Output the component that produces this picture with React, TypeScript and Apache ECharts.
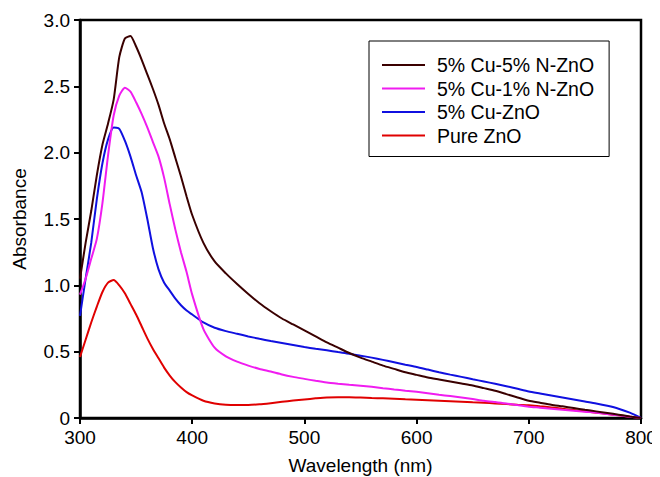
import React, { useEffect, useRef } from "react";
import * as echarts from "echarts";

const wavelengths = [300, 305, 310, 315, 320, 325, 330, 335, 340, 345, 350, 355, 360, 365, 370, 375, 380, 385, 390, 395,
  400, 410, 420, 430, 440, 450, 460, 470, 480, 490, 500, 510, 520, 530, 540, 550, 560, 570, 580, 590,
  600, 610, 620, 630, 640, 650, 660, 670, 680, 690, 700, 710, 720, 730, 740, 750, 760, 770, 780, 790, 800];

const cu5n5 = [1.05, 1.32, 1.56, 1.83, 2.06, 2.22, 2.4, 2.72, 2.86, 2.88, 2.8, 2.7, 2.59, 2.48, 2.36, 2.22, 2.1, 1.96, 1.82, 1.67,
  1.53, 1.32, 1.18, 1.09, 1.01, 0.935, 0.865, 0.805, 0.75, 0.705, 0.66, 0.615, 0.57, 0.53, 0.49, 0.455, 0.425, 0.395, 0.37, 0.345,
  0.325, 0.305, 0.29, 0.275, 0.26, 0.245, 0.225, 0.205, 0.18, 0.155, 0.13, 0.115, 0.1, 0.088, 0.075, 0.062, 0.05, 0.038, 0.025, 0.012, 0];
const cu5n1 = [0.93, 1.05, 1.2, 1.35, 1.62, 1.98, 2.28, 2.43, 2.49, 2.46, 2.38, 2.29, 2.19, 2.08, 1.97, 1.81, 1.61, 1.42, 1.25, 1.1,
  0.93, 0.67, 0.53, 0.465, 0.425, 0.395, 0.37, 0.35, 0.328, 0.31, 0.295, 0.28, 0.267, 0.258, 0.25, 0.243, 0.235, 0.225, 0.215, 0.206,
  0.197, 0.186, 0.175, 0.165, 0.155, 0.143, 0.13, 0.12, 0.11, 0.097, 0.085, 0.078, 0.07, 0.062, 0.055, 0.047, 0.04, 0.03, 0.02, 0.01, 0];
const cu5 = [0.77, 1.05, 1.32, 1.65, 1.92, 2.1, 2.19, 2.18, 2.09, 1.97, 1.83, 1.7, 1.5, 1.28, 1.12, 1.02, 0.96, 0.9, 0.85, 0.81,
  0.78, 0.72, 0.68, 0.655, 0.635, 0.615, 0.597, 0.58, 0.565, 0.55, 0.535, 0.522, 0.51, 0.497, 0.485, 0.47, 0.455, 0.438, 0.42, 0.402,
  0.385, 0.365, 0.345, 0.327, 0.31, 0.292, 0.275, 0.258, 0.24, 0.22, 0.2, 0.185, 0.17, 0.155, 0.14, 0.125, 0.11, 0.092, 0.07, 0.04, 0];
const pure = [0.46, 0.59, 0.72, 0.84, 0.95, 1.02, 1.04, 1.0, 0.94, 0.86, 0.78, 0.69, 0.6, 0.52, 0.45, 0.38, 0.32, 0.27, 0.23, 0.195,
  0.17, 0.13, 0.11, 0.1, 0.098, 0.098, 0.103, 0.112, 0.122, 0.132, 0.14, 0.148, 0.155, 0.157, 0.157, 0.154, 0.15, 0.148, 0.145, 0.141,
  0.138, 0.134, 0.13, 0.126, 0.122, 0.118, 0.115, 0.11, 0.105, 0.1, 0.096, 0.088, 0.08, 0.07, 0.06, 0.05, 0.04, 0.03, 0.02, 0.01, 0];

const seriesNames = ["5% Cu-5% N-ZnO", "5% Cu-1% N-ZnO", "5% Cu-ZnO", "Pure ZnO"];
const seriesColors = ["#3a0000", "#f01cf0", "#1010e0", "#e00000"];
const seriesValues = [cu5n5, cu5n1, cu5, pure];

const FONT = "Liberation Sans, Arial, sans-serif";

export default function App() {
  const ref = useRef<HTMLDivElement>(null);
  useEffect(() => {
    if (!ref.current) return;
    const chart = echarts.init(ref.current, null, { renderer: "svg" });
    chart.setOption({
      animation: false,
      backgroundColor: "#ffffff",
      grid: {
        left: 72, right: 19, top: 12, bottom: 59,
        outerBoundsMode: "none",
        containLabel: false,
        show: true, borderColor: "#000", borderWidth: 2.5,
      },
      legend: {
        orient: "vertical",
        left: 361,
        top: 33,
        padding: [13, 15, 10, 13],
        borderColor: "#000",
        borderWidth: 1,
        backgroundColor: "#fff",
        itemWidth: 43,
        itemHeight: 2,
        itemGap: 1.5,
        icon: "rect",
        textStyle: { fontFamily: FONT, fontSize: 19.5, color: "#000", lineHeight: 22, padding: [0, 0, 0, 7] },
        data: seriesNames,
      },
      xAxis: {
        type: "value",
        min: 300,
        max: 800,
        interval: 100,
        name: "Wavelength (nm)",
        nameLocation: "middle",
        nameGap: 38,
        nameTextStyle: { fontFamily: FONT, fontSize: 19, color: "#000" },
        axisLine: { show: true, lineStyle: { color: "#000", width: 2.5 } },
        axisTick: { show: true, length: 6, lineStyle: { color: "#000", width: 2 } },
        axisLabel: { fontFamily: FONT, fontSize: 19, color: "#000", margin: 10 },
        splitLine: { show: false },
      },
      yAxis: {
        type: "value",
        min: 0,
        max: 3,
        interval: 0.5,
        name: "Absorbance",
        nameLocation: "middle",
        nameGap: 51,
        nameTextStyle: { fontFamily: FONT, fontSize: 19, color: "#000" },
        axisLine: { show: true, lineStyle: { color: "#000", width: 2.5 } },
        axisTick: { show: true, length: 6, lineStyle: { color: "#000", width: 2 } },
        axisLabel: {
          fontFamily: FONT,
          fontSize: 19,
          color: "#000",
          margin: 10,
          formatter: (v: number) => (v === 0 ? "0" : v.toFixed(1)),
        },
        splitLine: { show: false },
      },
      series: seriesNames.map((name, i) => ({
        name,
        type: "line",
        showSymbol: false,
        symbol: "none",
        smooth: 0.2,
        color: seriesColors[i],
        lineStyle: { color: seriesColors[i], width: 2 },
        data: wavelengths.map((w, j) => [w, seriesValues[i][j]]),
        z: 10 - i,
      })),
    });
    return () => chart.dispose();
  }, []);
  return <div ref={ref} style={{ width: 652, height: 469 }} />;
}
